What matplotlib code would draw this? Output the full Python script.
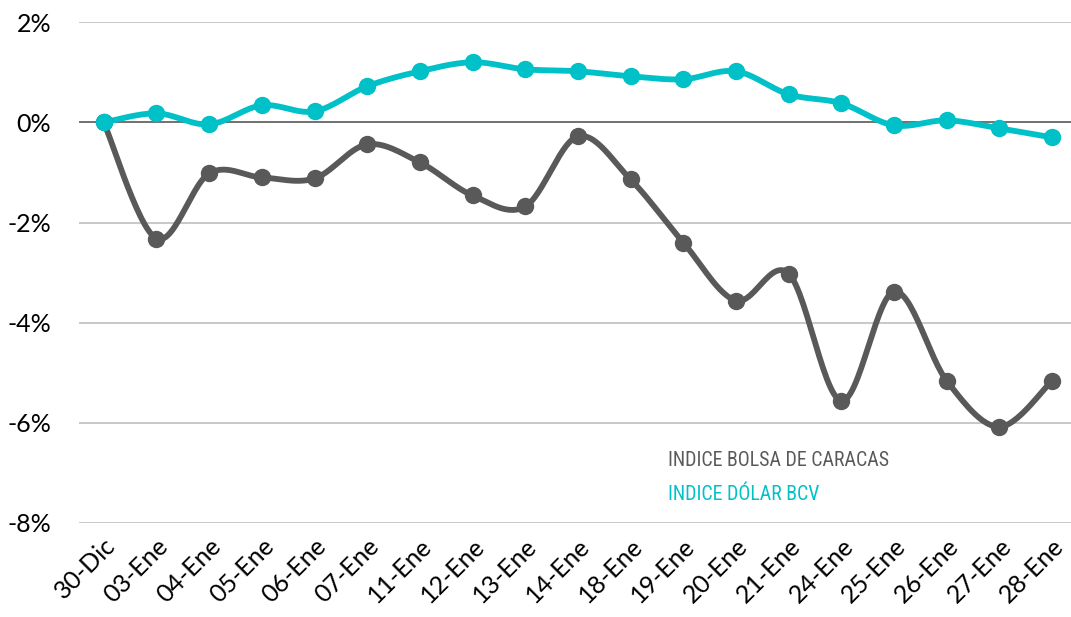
import numpy as np
import matplotlib.pyplot as plt
from matplotlib import font_manager

fechas = ['30-Dic', '03-Ene', '04-Ene', '05-Ene', '06-Ene', '07-Ene', '11-Ene',
          '12-Ene', '13-Ene', '14-Ene', '18-Ene', '19-Ene', '20-Ene', '21-Ene',
          '24-Ene', '25-Ene', '26-Ene', '27-Ene', '28-Ene']
bolsa = [0.0, -2.32, -1.02, -1.10, -1.12, -0.44, -0.80, -1.46, -1.68, -0.28,
         -1.14, -2.40, -3.56, -3.02, -5.56, -3.38, -5.16, -6.08, -5.16]
dolar = [0.0, 0.18, -0.04, 0.34, 0.22, 0.72, 1.02, 1.20, 1.06, 1.02,
         0.92, 0.86, 1.02, 0.56, 0.38, -0.06, 0.04, -0.12, -0.30]
y_ticks = [2, 0, -2, -4, -6, -8]

GRIS = '#595959'
TEAL = '#00C0C8'


def primera(fams):
    hay = {f.name for f in font_manager.fontManager.ttflist}
    for f in fams:
        if f in hay:
            return f
    return 'DejaVu Sans'


def suavizar(y, n=30):
    # curva tipo Excel (Catmull-Rom / Bezier)
    x = np.arange(len(y), dtype=float)
    y = np.asarray(y, dtype=float)
    xs, ys = [], []
    for i in range(len(y) - 1):
        p0 = (x[max(i - 1, 0)], y[max(i - 1, 0)])
        p1 = (x[i], y[i])
        p2 = (x[i + 1], y[i + 1])
        p3 = (x[min(i + 2, len(y) - 1)], y[min(i + 2, len(y) - 1)])
        c1 = (p1[0] + (p2[0] - p0[0]) / 6, p1[1] + (p2[1] - p0[1]) / 6)
        c2 = (p2[0] - (p3[0] - p1[0]) / 6, p2[1] - (p3[1] - p1[1]) / 6)
        t = np.linspace(0, 1, n)
        for k in range(2):
            pts = [p1[k], c1[k], c2[k], p2[k]]
            b = ((1 - t) ** 3 * pts[0] + 3 * (1 - t) ** 2 * t * pts[1]
                 + 3 * (1 - t) * t ** 2 * pts[2] + t ** 3 * pts[3])
            (xs if k == 0 else ys).append(b)
    return np.concatenate(xs), np.concatenate(ys)


fuente = primera(['Lato', 'Open Sans', 'Noto Sans', 'Roboto'])
narrow = primera(['Liberation Sans Narrow', 'Roboto Condensed', 'Open Sans Condensed', fuente])
plt.rcParams['font.family'] = [fuente, 'DejaVu Sans']

fig = plt.figure(figsize=(10.71, 6.17), dpi=100)
ax = fig.add_axes([0.0738, 0.1524, 0.9262, 0.8116])

for yv in y_ticks:
    if yv == 0:
        ax.axhline(yv, color=GRIS, lw=1.2, zorder=1)
    else:
        ax.axhline(yv, color='#BFBFBF', lw=1.2, zorder=1)

x = np.arange(len(fechas))
for serie, col in [(bolsa, GRIS), (dolar, TEAL)]:
    xs, ys = suavizar(serie)
    ax.plot(xs, ys, color=col, lw=4.2, solid_capstyle='round', zorder=3, clip_on=False)
    ax.plot(x, serie, 'o', color=col, ms=11.5, zorder=4, clip_on=False)

ax.set_xlim(-0.47, 18.36)
ax.set_ylim(-8, 2)
ax.set_yticks(y_ticks)
ax.set_yticklabels([f'{v}%' for v in y_ticks], fontsize=18)
ax.set_xticks(x)
ax.set_xticklabels(fechas, rotation=45, ha='right', rotation_mode='anchor', fontsize=18)
ax.tick_params(length=0, pad=8)
ax.tick_params(axis='y', pad=20)
for s in ax.spines.values():
    s.set_visible(False)

fig.text(0.624, 0.253, 'INDICE BOLSA DE CARACAS', color=GRIS, fontsize=14.3,
         family=[narrow, 'DejaVu Sans'], fontstretch='condensed', va='center')
fig.text(0.624, 0.198, 'INDICE DÓLAR BCV', color=TEAL, fontsize=14.3,
         family=[narrow, 'DejaVu Sans'], fontstretch='condensed', va='center')

fig.savefig('out.png', dpi=100)
